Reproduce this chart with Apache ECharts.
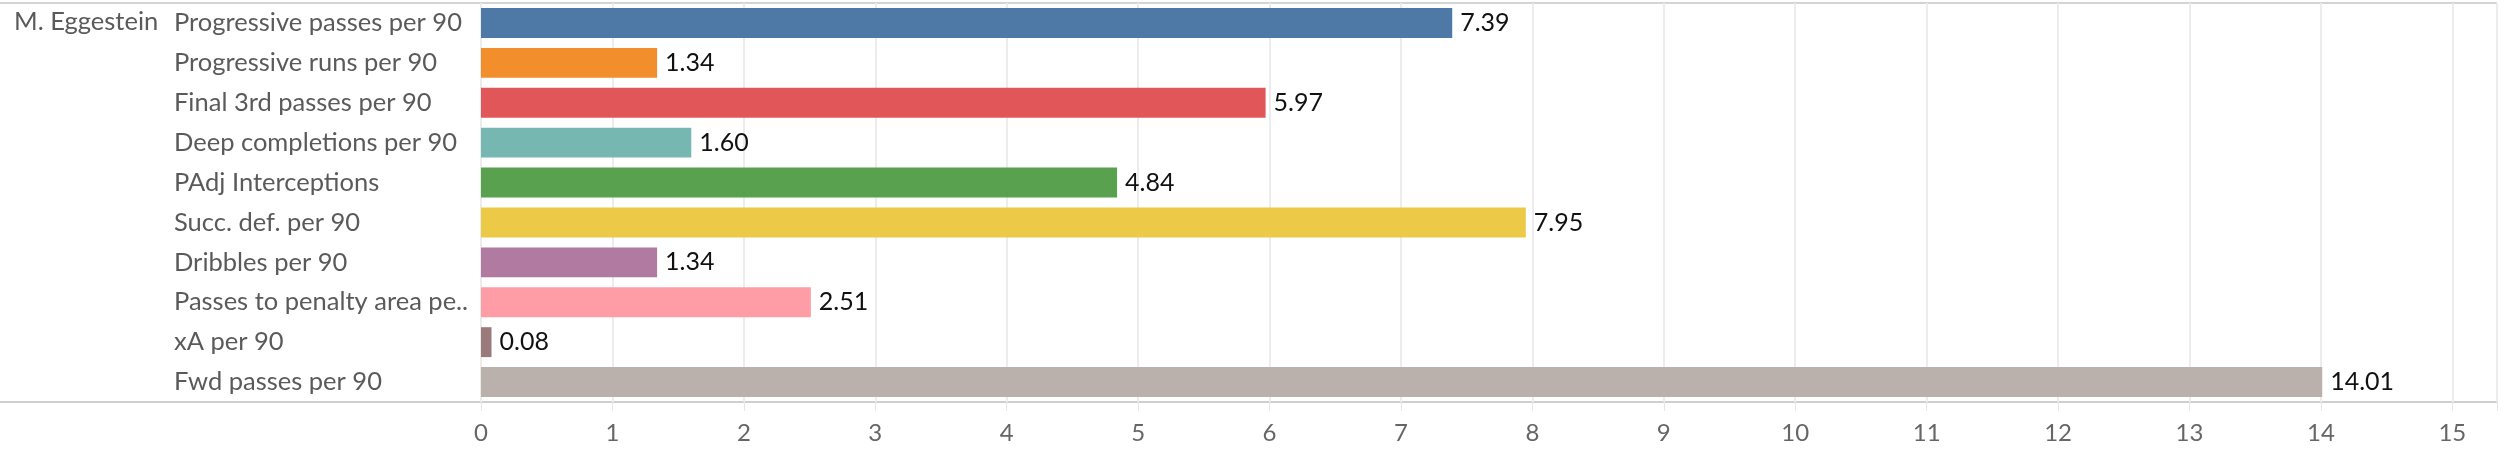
<!DOCTYPE html>
<html>
<head>
<meta charset="utf-8">
<script src="https://cdn.jsdelivr.net/npm/echarts@6/dist/echarts.min.js"></script>
<style>
html,body{margin:0;padding:0;background:#fff;}
#chart{width:2509px;height:454px;}
</style>
</head>
<body>
<div id="chart"></div>
<script>
const player = "M. Eggestein";
const categories = [
  "Progressive passes per 90",
  "Progressive runs per 90",
  "Final 3rd passes per 90",
  "Deep completions per 90",
  "PAdj Interceptions",
  "Succ. def. per 90",
  "Dribbles per 90",
  "Passes to penalty area pe..",
  "xA per 90",
  "Fwd passes per 90"
];
const values = [7.39, 1.34, 5.97, 1.60, 4.84, 7.95, 1.34, 2.51, 0.08, 14.01];
const barColors = ["#4e79a7","#f28e2b","#e15759","#76b7b2","#59a14f","#edc948","#b07aa1","#ff9da7","#9a7b7b","#bab0ac"];

const FONT = "Lato";
const chart = echarts.init(document.getElementById('chart'));
chart.setOption({
  animation: false,
  textStyle: {fontFamily: FONT},
  grid: {left: 481, right: 12, top: 3, bottom: 52},
  xAxis: {
    type: 'value', min: 0, max: 15.34, interval: 1,
    axisLine: {show: false},
    axisTick: {show: true, length: 9, lineStyle: {color: '#e6e6e6', width: 1}},
    axisLabel: {color: '#666', fontSize: 24, fontFamily: FONT, margin: 19,
      formatter: v => (Math.abs(v - Math.round(v)) < 1e-6 ? String(Math.round(v)) : '')},
    splitLine: {show: true, lineStyle: {color: '#ececec', width: 2}}
  },
  yAxis: {
    type: 'category', data: categories, inverse: true,
    axisLine: {show: false},
    axisTick: {show: false},
    axisLabel: {color: '#5a5a5a', fontSize: 25.5, fontFamily: FONT, align: 'left', margin: 307}
  },
  series: [{
    type: 'bar',
    barCategoryGap: '25%',
    data: values.map((v, i) => ({value: v, itemStyle: {color: barColors[i]}})),
    label: {show: true, position: 'right', distance: 8, color: '#111', fontSize: 25, fontFamily: FONT,
      formatter: p => p.value.toFixed(2)}
  }],
  graphic: [
    {type: 'line', shape: {x1: 0, y1: 3, x2: 2497, y2: 3}, style: {stroke: '#d4d4d4', lineWidth: 2}, silent: true},
    {type: 'line', shape: {x1: 0, y1: 402, x2: 2497, y2: 402}, style: {stroke: '#cfcfcf', lineWidth: 2}, silent: true},
    {type: 'line', shape: {x1: 2497, y1: 3, x2: 2497, y2: 402}, style: {stroke: '#d4d4d4', lineWidth: 2}, silent: true},
    {type: 'text', left: 14, top: 9, style: {text: player, fill: '#5a5a5a', font: '25.5px ' + FONT}}
  ]
});
</script>
</body>
</html>
